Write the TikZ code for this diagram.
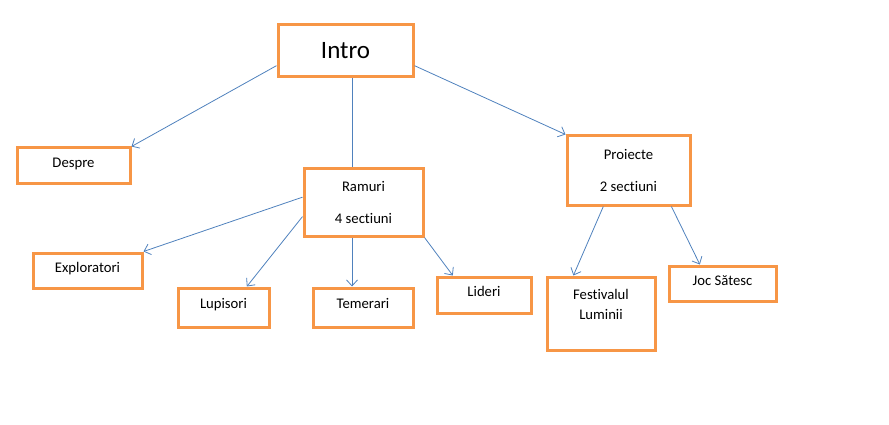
\documentclass[tikz,border=0pt]{standalone}
\usepackage{fontspec}
\setmainfont{Carlito}[Ligatures=NoCommon]
\usepackage{tikz}
\usetikzlibrary{arrows.meta}
\usetikzlibrary{shapes,positioning}
\definecolor{boxorange}{HTML}{F79646}
\definecolor{linkblue}{HTML}{4F81BD}
\tikzset{>={Straight Barb[length=6pt,width=11pt]},
  box/.style={draw=boxorange,line width=3pt,font=\fontsize{14.7}{18}\selectfont,
    align=center,inner sep=2pt},
  link/.style={color=linkblue,line width=0.8pt}}

\begin{document}
\begin{tikzpicture}[x=1pt,y=-1pt]
    \useasboundingbox (0,0) rectangle (889,425);

    \node (intro) [box,minimum width=135pt,minimum height=52pt,
      font=\fontsize{25}{30}\selectfont] at (345.5,51) {Intro};
    \node (despre) [box,minimum width=113pt,minimum height=35pt,text depth=6pt] at (73.5,165.5) {Despre};
    \node (ramuri) [box,minimum width=119pt,minimum height=67pt] at (363.5,202.5)
      {Ramuri\\[14pt]4 sectiuni};
    \node (proiecte) [box,minimum width=123pt,minimum height=69pt] at (628.5,170.5)
      {Proiecte\\[14pt]2 sectiuni};

    \node (exploratori) [box,minimum width=109pt,minimum height=35pt,text depth=6pt] at (87.5,270.5) {Exploratori};
    \node (lupisori) [box,minimum width=91pt,minimum height=39pt,text depth=8pt] at (223.5,307.5) {Lupisori};
    \node (temerari) [box,minimum width=100pt,minimum height=39pt,text depth=8pt] at (363,307.5) {Temerari};
    \node (lideri) [box,minimum width=94pt,minimum height=36pt,text depth=8pt] at (484,295) {Lideri};
    \node (festival) [box,minimum width=108pt,minimum height=73pt,text depth=18pt] at (601,313.5)
      {Festivalul\\[2pt]Luminii};
    \node (joc) [box,minimum width=107pt,minimum height=35pt,text depth=6pt] at (722.5,283.5) {Joc Sătesc};

    \coordinate (trunk) at (352,0);

    \path[link,->] (intro.192) edge (despre.north east);
    \path[link] (intro.south -| trunk) edge (ramuri.north -| trunk);
    \path[link,->] (intro.-12) edge (proiecte.north west);

    \path[link,->] (ramuri.175) edge (exploratori.north east);
    \path[link,->] (ramuri.193) edge (lupisori.42);
    \path[link,->] (ramuri.south -| trunk) edge (temerari.north -| trunk);
    \path[link,->] (ramuri.south east) edge (lideri.148);

    \path[link,->] (proiecte.-125) edge (festival.126);
    \path[link,->] (proiecte.-40) edge (joc.140);
  \end{tikzpicture}
\end{document}
